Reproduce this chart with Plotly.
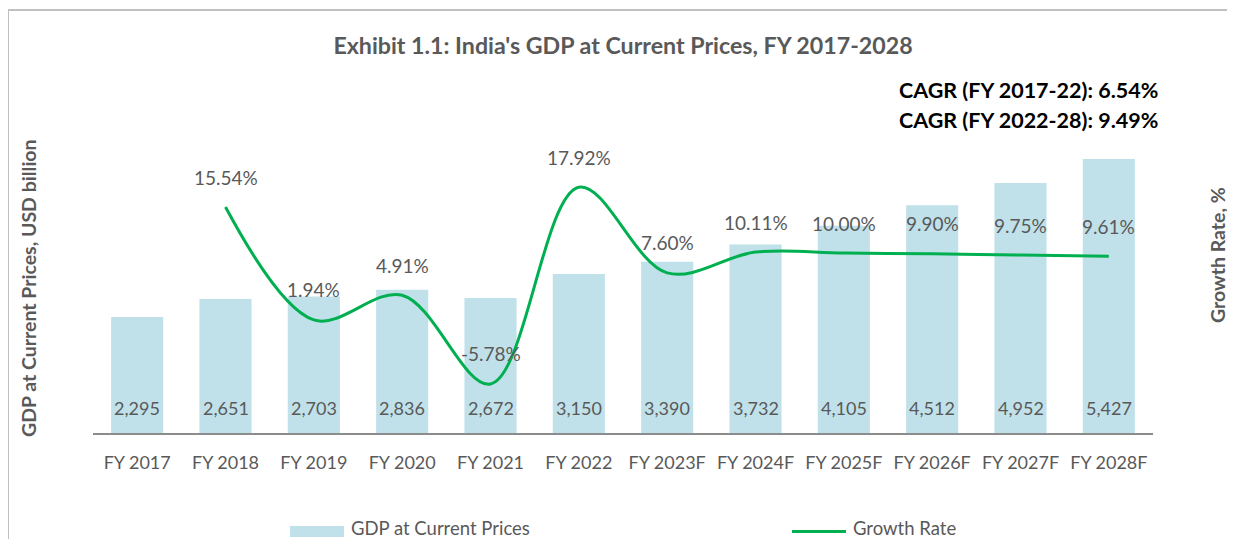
import plotly.graph_objects as go

categories = ["FY 2017", "FY 2018", "FY 2019", "FY 2020", "FY 2021", "FY 2022",
              "FY 2023F", "FY 2024F", "FY 2025F", "FY 2026F", "FY 2027F", "FY 2028F"]
gdp = [2295, 2651, 2703, 2836, 2672, 3150, 3390, 3732, 4105, 4512, 4952, 5427]
growth_cats = categories[1:]
growth = [15.54, 1.94, 4.91, -5.78, 17.92, 7.60, 10.11, 10.00, 9.90, 9.75, 9.61]
cagr_lines = ["CAGR (FY 2017-22): 6.54%", "CAGR (FY 2022-28): 9.49%"]
series_names = ["GDP at Current Prices", "Growth Rate"]

OFF = 8                      # default page body margin
W, H = 1235 - OFF, 539 - OFF
# plot area in page pixels
L, R, T, B = 93, 1153, 130, 433
pw, ph = R - L, B - T

def px_x(x):
    return (x - L) / pw

def px_y(y):
    return (B - y) / ph

FONT = "Lato"
GRAY = "#595959"
BAR_COLOR = "#C0E1EA"
LINE_COLOR = "#00B050"

fig = go.Figure()
fig.add_trace(go.Bar(
    x=categories, y=gdp, name=series_names[0],
    marker=dict(color=BAR_COLOR, line=dict(width=0)),
    yaxis="y", showlegend=False,
))
fig.add_trace(go.Scatter(
    x=growth_cats, y=growth, name=series_names[1], mode="lines",
    line=dict(color=LINE_COLOR, width=3, shape="spline", smoothing=1.0),
    yaxis="y2", showlegend=False,
))

annotations = []
for c, v in zip(categories, gdp):
    annotations.append(dict(x=c, y=0, xref="x", yref="y", text=f"{v:,}",
                            showarrow=False, yshift=25,
                            font=dict(family=FONT, size=18, color=GRAY)))
for c, v in zip(growth_cats, growth):
    annotations.append(dict(x=c, y=v, xref="x", yref="y2", text=f"{v:.2f}%",
                            showarrow=False, yshift=30,
                            font=dict(family=FONT, size=19, color=GRAY)))
for i, t in enumerate(cagr_lines):
    annotations.append(dict(x=px_x(1160), y=px_y(90 + 30 * i), xref="paper", yref="paper",
                            text=f"<b>{t}</b>", showarrow=False, xanchor="right", yanchor="middle",
                            font=dict(family=FONT, size=21.5, color="#000000")))
annotations.append(dict(x=px_x(28), y=px_y(288), xref="paper", yref="paper",
                        text="<b>GDP at Current Prices, USD billion</b>", textangle=-90,
                        showarrow=False, xanchor="center", yanchor="middle",
                        font=dict(family=FONT, size=19.5, color=GRAY)))
annotations.append(dict(x=px_x(1217), y=px_y(255), xref="paper", yref="paper",
                        text="<b>Growth Rate, %</b>", textangle=-90,
                        showarrow=False, xanchor="center", yanchor="middle",
                        font=dict(family=FONT, size=19.5, color=GRAY)))
# legend texts
annotations.append(dict(x=px_x(349), y=px_y(527.5), xref="paper", yref="paper",
                        text=series_names[0], showarrow=False, xanchor="left", yanchor="middle",
                        font=dict(family=FONT, size=18.5, color=GRAY)))
annotations.append(dict(x=px_x(851), y=px_y(527.5), xref="paper", yref="paper",
                        text=series_names[1], showarrow=False, xanchor="left", yanchor="middle",
                        font=dict(family=FONT, size=18.5, color=GRAY)))

shapes = [
    # chart frame (top and left edges visible)
    dict(type="line", xref="paper", yref="paper", x0=px_x(8), x1=px_x(1234),
         y0=px_y(10), y1=px_y(10), line=dict(color="#C0C0C0", width=2), layer="below"),
    dict(type="line", xref="paper", yref="paper", x0=px_x(8), x1=px_x(8),
         y0=px_y(9), y1=px_y(545), line=dict(color="#C0C0C0", width=2), layer="below"),
    # legend swatches
    dict(type="rect", xref="paper", yref="paper", x0=px_x(290), x1=px_x(344),
         y0=px_y(537), y1=px_y(526), fillcolor=BAR_COLOR, line=dict(width=0)),
    dict(type="line", xref="paper", yref="paper", x0=px_x(792), x1=px_x(846),
         y0=px_y(531.5), y1=px_y(531.5), line=dict(color=LINE_COLOR, width=3)),
]

fig.update_layout(
    width=W, height=H,
    margin=dict(l=L - OFF, r=W - (R - OFF), t=T - OFF, b=H - (B - OFF), autoexpand=False),
    paper_bgcolor="white", plot_bgcolor="white",
    title=dict(text="<b>Exhibit 1.1: India's GDP at Current Prices, FY 2017-2028</b>",
               x=(623 - OFF) / W, xanchor="center", y=1 - (46 - OFF) / H, yanchor="middle",
               font=dict(family=FONT, size=23.2, color=GRAY)),
    bargap=0.41,
    xaxis=dict(showline=True, linecolor="#8C8C8C", linewidth=2, ticks="",
               showgrid=False, tickfont=dict(family=FONT, size=18, color=GRAY),
               ticklabelstandoff=12),
    yaxis=dict(range=[0, 6000], visible=False, showgrid=False),
    yaxis2=dict(range=[(B - 336) / -8.3, (336 - T) / 8.3], overlaying="y", side="right",
                visible=False, showgrid=False),
    showlegend=False,
    annotations=annotations,
    shapes=shapes,
)

fig.write_html("out.html", config={"displayModeBar": False})
